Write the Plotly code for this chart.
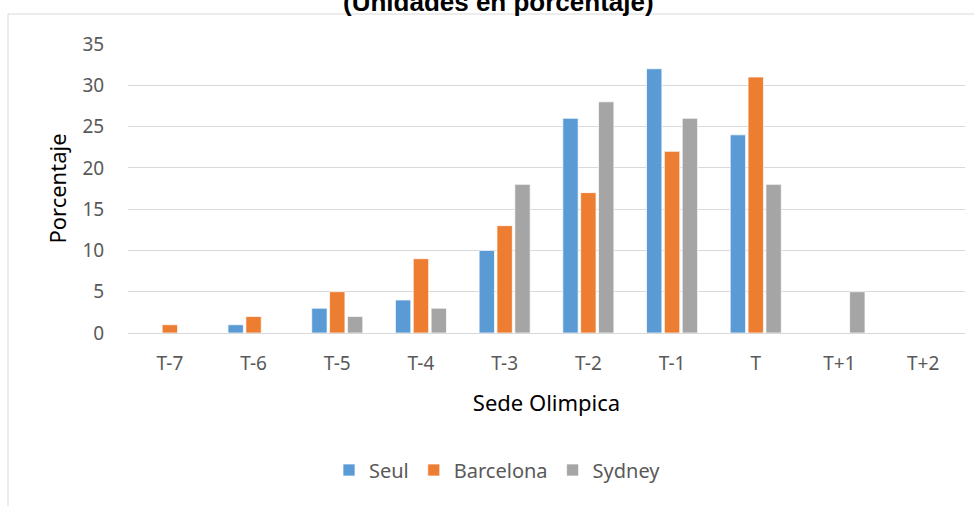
import plotly.graph_objects as go

categories = ["T-7", "T-6", "T-5", "T-4", "T-3", "T-2", "T-1", "T", "T+1", "T+2"]
seul = [0, 1, 3, 4, 10, 26, 32, 24, 0, 0]
barcelona = [1, 2, 5, 9, 13, 17, 22, 31, 0, 0]
sydney = [0, 0, 2, 3, 18, 28, 26, 18, 5, 0]
series_names = ["Seul", "Barcelona", "Sydney"]
colors = ["#5B9BD5", "#ED7D31", "#A5A5A5"]

W, H = 974, 506
L, R, T, B = 128, 9, 44, 173
pw, ph = W - L - R, H - T - B

fig = go.Figure()
for name, vals, c in zip(series_names, [seul, barcelona, sydney], colors):
    fig.add_trace(go.Bar(x=categories, y=vals, name=name, marker_color=c,
                         marker_line_color="white", marker_line_width=0.7))

def px_x(x):
    return (x - L) / pw

def px_y(y):
    return (H - B - y) / ph

fig.add_shape(type="rect", xref="paper", yref="paper",
              x0=px_x(8), x1=px_x(990), y0=px_y(14), y1=px_y(520),
              line=dict(color="#D9D9D9", width=1), fillcolor="rgba(0,0,0,0)", layer="below")

fig.add_annotation(text="<b>(Unidades en porcentaje)</b>", xref="paper", yref="paper",
                   x=px_x(498), y=px_y(2), xanchor="center", yanchor="middle",
                   showarrow=False, font=dict(family="Liberation Sans, Arial", size=26, color="black"))

fig.update_layout(
    width=W, height=H,
    margin=dict(l=L, r=R, t=T, b=B, autoexpand=False),
    paper_bgcolor="white", plot_bgcolor="white",
    barmode="group", bargap=0.36, bargroupgap=0.14,
    font=dict(family="Noto Sans, Open Sans, sans-serif", color="#595959"),
    showlegend=True,
    legend=dict(orientation="h", x=0.5 - 49 / pw, xref="paper", y=px_y(470), yanchor="middle",
                xanchor="center", font=dict(size=20, color="#595959"),
                itemwidth=30, tracegroupgap=0),
)
fig.update_xaxes(
    showgrid=False, showline=True, linecolor="#D9D9D9", linewidth=1,
    ticks="outside", ticklen=13, tickcolor="rgba(0,0,0,0)",
    tickfont=dict(size=19, color="#595959"),
    title=dict(text="Sede Olimpica", font=dict(size=22, color="black"), standoff=20),
)
fig.update_yaxes(
    range=[0, 35], dtick=5, showgrid=True, gridcolor="#D9D9D9", gridwidth=1,
    zeroline=False, ticks="outside", ticklen=19, tickcolor="rgba(0,0,0,0)",
    tickfont=dict(size=19, color="#595959"),
    title=dict(text="Porcentaje", font=dict(size=22, color="black"), standoff=9),
)

fig.write_html("out.html", config={"displayModeBar": False},
               post_script="document.body.style.margin='0';")
